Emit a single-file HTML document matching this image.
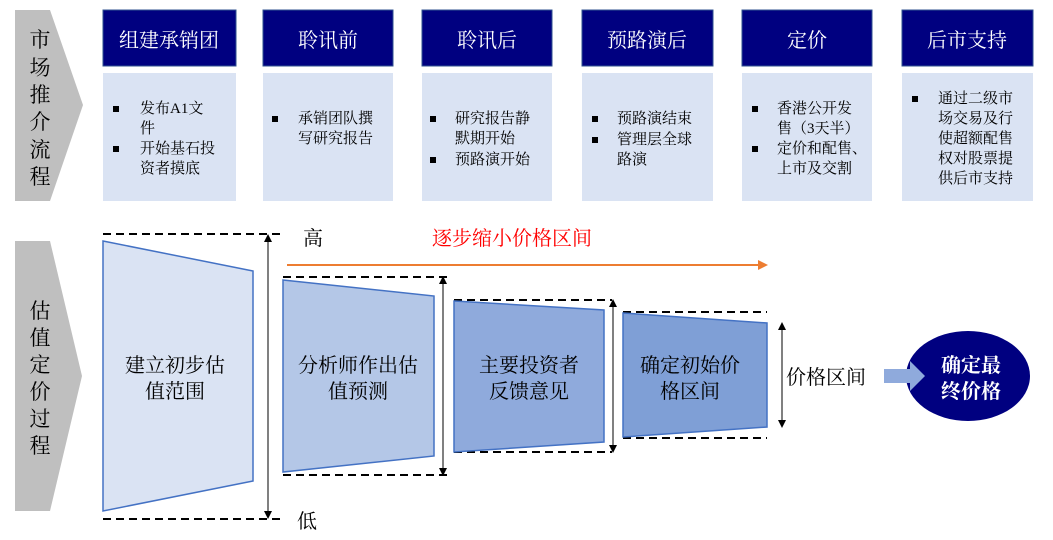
<!DOCTYPE html>
<html><head><meta charset="utf-8"><style>
body{margin:0;background:#fff}
svg{display:block}
text{font-family:"Liberation Serif","Noto Serif CJK SC",serif}
</style></head><body>
<svg width="1053" height="540" viewBox="0 0 1053 540" xmlns="http://www.w3.org/2000/svg">
<defs>
<marker id="ab" markerWidth="8" markerHeight="8" refX="4" refY="4" orient="auto-start-reverse" markerUnits="userSpaceOnUse"><path d="M0,0 L8,4 L0,8 z" fill="#000"/></marker>
<marker id="ao" markerWidth="10" markerHeight="10" refX="8" refY="5" orient="auto" markerUnits="userSpaceOnUse"><path d="M0,0 L10,5 L0,10 z" fill="#ed7d31"/></marker>
</defs>
<polygon points="15,10 50,10 83,105 50,201 15,201" fill="#bfbfbf"/>
<polygon points="15,241 50,241 82,376 50,511 15,511" fill="#bfbfbf"/>
<g font-size="21" fill="#000" text-anchor="middle">
<text x="40" y="47">市</text><text x="40" y="75">场</text><text x="40" y="102">推</text><text x="40" y="129">介</text><text x="40" y="157">流</text><text x="40" y="184">程</text>
<text x="40" y="318">估</text><text x="40" y="345">值</text><text x="40" y="372">定</text><text x="40" y="399">价</text><text x="40" y="426">过</text><text x="40" y="453">程</text>
</g>
<g fill="#000080" stroke="#2f528f" stroke-width="1">
<rect x="103" y="10" width="133" height="56"/><rect x="263" y="10" width="130" height="56"/><rect x="422" y="10" width="130" height="56"/><rect x="582" y="10" width="131" height="56"/><rect x="742" y="10" width="130" height="56"/><rect x="902" y="10" width="131" height="56"/>
</g>
<g font-size="20" fill="#fff" text-anchor="middle">
<text x="169" y="47">组建承销团</text><text x="328" y="47">聆讯前</text><text x="487" y="47">聆讯后</text><text x="647" y="47">预路演后</text><text x="807" y="47">定价</text><text x="967" y="47">后市支持</text>
</g>
<g fill="#dae3f3">
<rect x="103" y="73" width="133" height="128"/><rect x="263" y="73" width="130" height="128"/><rect x="422" y="73" width="130" height="128"/><rect x="582" y="73" width="131" height="128"/><rect x="742" y="73" width="130" height="128"/><rect x="902" y="73" width="131" height="128"/>
</g>
<g font-size="15" fill="#000">
<rect x="113" y="106" width="6" height="6"/><text x="140" y="113">发布A1文</text><text x="140" y="133">件</text>
<rect x="113" y="146" width="6" height="6"/><text x="140" y="153">开始基石投</text><text x="140" y="173">资者摸底</text>
<rect x="272" y="116" width="6" height="6"/><text x="298" y="123">承销团队撰</text><text x="298" y="143">写研究报告</text>
<rect x="430" y="116" width="6" height="6"/><text x="455" y="123">研究报告静</text><text x="455" y="143">默期开始</text>
<rect x="430" y="157" width="6" height="6"/><text x="455" y="164">预路演开始</text>
<rect x="592" y="116" width="6" height="6"/><text x="617" y="123">预路演结束</text>
<rect x="592" y="137" width="6" height="6"/><text x="617" y="144">管理层全球</text><text x="617" y="164">路演</text>
<rect x="752" y="106" width="6" height="6"/><text x="777" y="113">香港公开发</text><text x="777" y="133">售（3天半）</text>
<rect x="752" y="146" width="6" height="6"/><text x="777" y="153">定价和配售、</text><text x="777" y="173">上市及交割</text>
<rect x="912" y="96" width="6" height="6"/><text x="938" y="103">通过二级市</text><text x="938" y="123">场交易及行</text><text x="938" y="143">使超额配售</text><text x="938" y="163">权对股票提</text><text x="938" y="183">供后市支持</text>
</g>
<text x="512" y="245" font-size="20" fill="#ff0000" text-anchor="middle">逐步缩小价格区间</text>
<line x1="287" y1="265" x2="766" y2="265" stroke="#ed7d31" stroke-width="2" marker-end="url(#ao)"/>
<text x="303" y="245" font-size="20">高</text>
<text x="297" y="528" font-size="20">低</text>
<g stroke="#000" stroke-width="2" stroke-dasharray="8,5">
<line x1="103" y1="234" x2="285" y2="234"/><line x1="103" y1="519" x2="285" y2="519"/>
<line x1="283" y1="277" x2="447" y2="277"/><line x1="283" y1="475" x2="447" y2="475"/>
<line x1="454" y1="300" x2="612" y2="300"/><line x1="454" y1="452" x2="612" y2="452"/>
<line x1="623" y1="312" x2="767" y2="312"/><line x1="623" y1="438" x2="767" y2="438"/>
</g>
<g stroke="#000" stroke-width="1">
<line x1="268" y1="238" x2="268" y2="515" marker-start="url(#ab)" marker-end="url(#ab)"/>
<line x1="443" y1="280" x2="443" y2="472" marker-start="url(#ab)" marker-end="url(#ab)"/>
<line x1="613" y1="303" x2="613" y2="449" marker-start="url(#ab)" marker-end="url(#ab)"/>
<line x1="782" y1="326" x2="782" y2="424" marker-start="url(#ab)" marker-end="url(#ab)"/>
</g>
<g stroke="#4472c4" stroke-width="1.5">
<polygon points="103,241 253,271 253,481 103,511" fill="#dae3f3"/>
<polygon points="283,280 434,296 434,456 283,472" fill="#b4c7e7"/>
<polygon points="454,301 604,310 604,442 454,452" fill="#8faadc"/>
<polygon points="623,313 767,323 767,427 623,437" fill="#7f9fd6"/>
</g>
<g font-size="20" fill="#000" text-anchor="middle">
<text x="175" y="372">建立初步估</text><text x="175" y="398">值范围</text>
<text x="358" y="372">分析师作出估</text><text x="358" y="398">值预测</text>
<text x="529" y="372">主要投资者</text><text x="529" y="398">反馈意见</text>
<text x="690" y="372">确定初始价</text><text x="690" y="398">格区间</text>
</g>
<text x="786" y="384" font-size="20">价格区间</text>
<ellipse cx="968" cy="376" rx="62" ry="45" fill="#000080"/>
<polygon points="884,369 910,369 910,361 925,376 910,391 910,383 884,383" fill="#8faadc"/>
<g font-size="20" fill="#fff" text-anchor="middle" font-weight="bold">
<text x="971" y="372">确定最</text><text x="971" y="398">终价格</text>
</g>
</svg>
</body></html>
